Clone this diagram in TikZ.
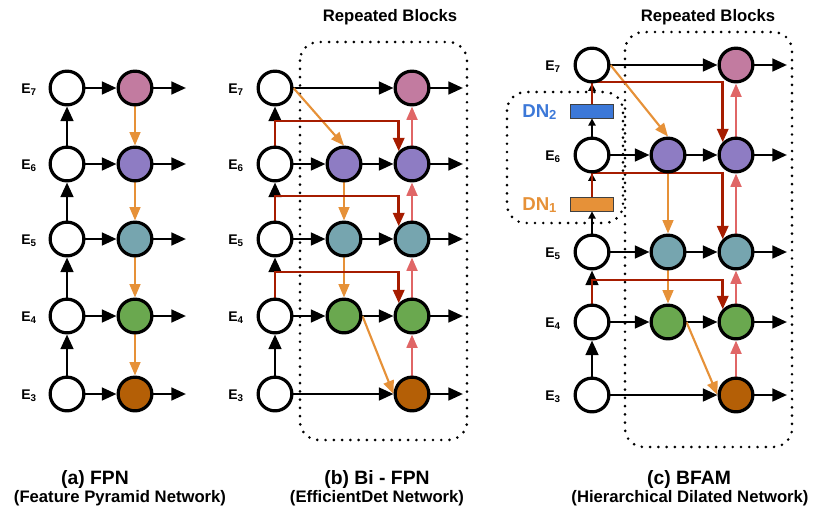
\documentclass[tikz,border=0pt]{standalone}
\usepackage{fontspec}
\setmainfont{Liberation Sans}
\usetikzlibrary{arrows.meta}

\definecolor{cpink}{HTML}{C27BA0}
\definecolor{cpurple}{HTML}{8E7CC3}
\definecolor{cteal}{HTML}{76A5AF}
\definecolor{cgreen}{HTML}{6AA84F}
\definecolor{cbrown}{HTML}{B45F06}
\definecolor{corange}{HTML}{E69138}
\definecolor{cdred}{HTML}{A61C00}
\definecolor{clred}{HTML}{E06666}
\definecolor{cblue}{HTML}{3C78D8}

\pgfdeclarelayer{back}
\pgfsetlayers{back,main}

\begin{document}
\begin{tikzpicture}[x=0.75pt,y=-0.75pt,
  feat/.style={circle,draw=black,line width=2.4pt,minimum size=25.3pt,inner sep=0pt,fill=white},
  dnbox/.style={rectangle,draw=black!75,line width=0.6pt,minimum width=32pt,minimum height=10.5pt,inner sep=0pt},
  blk/.style={draw=black,line width=2pt,-{Triangle[length=11pt,width=9.5pt]}},
  blksm/.style={draw=black,line width=1.3pt,-{Triangle[length=5.5pt,width=5.5pt]}},
  orng/.style={draw=corange,line width=1.6pt,-{Triangle[length=10pt,width=8pt]}},
  skipln/.style={draw=cdred,line width=1.9pt,-{Triangle[length=10pt,width=8.5pt]}},
  uparr/.style={draw=clred,line width=2pt,-{Triangle[length=10pt,width=8pt]}},
  repbox/.style={draw=black,line width=2.2pt,dash pattern=on 0pt off 6.2pt,line cap=round,rounded corners=14pt},
  elbl/.style={font=\bfseries\fontsize{10.5}{12}\selectfont,anchor=base east,inner sep=0pt},
  dnlbl/.style={font=\bfseries\fontsize{14}{16}\selectfont,anchor=base west,inner sep=0pt},
  captitle/.style={font=\bfseries\fontsize{14.5}{17}\selectfont,inner sep=0pt},
  capsub/.style={font=\bfseries\fontsize{12.5}{15}\selectfont,inner sep=0pt},
  rephead/.style={font=\bfseries\fontsize{12.5}{15}\selectfont,inner sep=0pt}]
\useasboundingbox (0,0) rectangle (813,511);

% ---------------- (a) FPN ----------------
\foreach \i/\y/\c in {7/88/cpink,6/164/cpurple,5/239/cteal,4/316/cgreen,3/394/cbrown}{
  \node[feat] (aL\i) at (67,\y) {};
  \node[feat,fill=\c] (aR\i) at (135,\y) {};
  \coordinate (aO\i) at (186,\y);
  \node[elbl] (aE\i) at (37,\y+5) {E\textsubscript{\i}};
}

% ---------------- (b) Bi-FPN ----------------
\foreach \i/\y/\c in {7/88/cpink,6/164/cpurple,5/239/cteal,4/316/cgreen,3/394/cbrown}{
  \node[feat] (bL\i) at (275,\y) {};
  \node[feat,fill=\c] (bR\i) at (412,\y) {};
  \coordinate (bO\i) at (463,\y);
  \node[elbl] (bE\i) at (244,\y+5) {E\textsubscript{\i}};
}
\foreach \i/\y/\c in {6/164/cpurple,5/239/cteal,4/316/cgreen}{
  \node[feat,fill=\c] (bM\i) at (344,\y) {};
}
\coordinate (bK6) at (275,121);
\coordinate (bK5) at (275,196);
\coordinate (bK4) at (275,272);
\node[rephead] (bRep) at (390,17) {Repeated Blocks};

% ---------------- (c) BFAM ----------------
\foreach \i/\y/\c in {7/65/cpink,6/155/cpurple,5/252/cteal,4/322/cgreen,3/395/cbrown}{
  \node[feat] (cL\i) at (592,\y) {};
  \node[feat,fill=\c] (cR\i) at (736,\y) {};
  \coordinate (cO\i) at (787,\y);
  \node[elbl] (cE\i) at (561,\y+5) {E\textsubscript{\i}};
}
\foreach \i/\y/\c in {6/155/cpurple,5/252/cteal,4/322/cgreen}{
  \node[feat,fill=\c] (cM\i) at (668,\y) {};
}
\node[dnbox,fill=cblue] (cDN2) at (592,111) {};
\node[dnbox,fill=corange] (cDN1) at (592,204) {};
\node[dnlbl,text=cblue] (cDN2t) at (522,117) {DN\textsubscript{2}};
\node[dnlbl,text=corange] (cDN1t) at (522,210) {DN\textsubscript{1}};
\coordinate (cK7) at (592,82);
\coordinate (cK6) at (592,173);
\coordinate (cK4) at (592,280);
\node[rephead] (cRep) at (708,17) {Repeated Blocks};

% ---------------- captions ----------------
\node[captitle] (aT) at (95,479) {(a) FPN};
\node[capsub] (aS) at (120,498) {(Feature Pyramid Network)};
\node[captitle] (bT) at (377,479) {(b) Bi - FPN};
\node[capsub] (bS) at (377,498) {(EfficientDet Network)};
\node[captitle] (cT) at (689,479) {(c) BFAM};
\node[capsub] (cS) at (690,498) {(Hierarchical Dilated Network)};

% ---------------- connectors ----------------
\begin{pgfonlayer}{back}
  % repeated-block frames
  \draw[repbox] (300,42) rectangle (467,440);
  \draw[repbox] (625,32) rectangle (792,447);
  \draw[repbox] (507,92) rectangle (623,223);

  % (a)
  \foreach \p/\q in {3/4,4/5,5/6,6/7}{ \draw[blk] (aL\p) -- (aL\q); }
  \foreach \i in {3,...,7}{
    \draw[blk] (aL\i) -- (aR\i);
    \draw[blk] (aR\i) -- (aO\i);
  }
  \foreach \p/\q in {7/6,6/5,5/4,4/3}{ \draw[orng] (aR\p) -- (aR\q); }

  % (b)
  \foreach \p/\q in {3/4,4/5,5/6,6/7}{ \draw[blk] (bL\p) -- (bL\q); }
  \draw[blk] (bL7) -- (bR7);
  \draw[blk] (bL3) -- (bR3);
  \foreach \i in {4,5,6}{
    \draw[blk] (bL\i) -- (bM\i);
    \draw[blk] (bM\i) -- (bR\i);
  }
  \foreach \i in {3,...,7}{ \draw[blk] (bR\i) -- (bO\i); }
  \draw[orng] (bL7.east) -- (bM6.north);
  \draw[orng] (bM6) -- (bM5);
  \draw[orng] (bM5) -- (bM4);
  \draw[orng] (bM4.east) -- (bR3.west);
  \foreach \p/\q in {3/4,4/5,5/6,6/7}{ \draw[uparr] (bR\p) -- (bR\q); }
  \draw[skipln] (bL6.north) -- (bK6) -| (bR6.136);
  \draw[skipln] (bL5.north) -- (bK5) -| (bR5.136);
  \draw[skipln] (bL4.north) -- (bK4) -| (bR4.136);

  % (c)
  \draw[blk] (cL3) -- (cL4);
  \draw[blk] (cL4) -- (cL5);
  \draw[blksm] (cL5) -- (cDN1);
  \draw[blksm] (cDN1) -- (cL6);
  \draw[blksm] (cL6) -- (cDN2);
  \draw[blksm] (cDN2) -- (cL7);
  \draw[blk] (cL7) -- (cR7);
  \draw[blk] (cL3) -- (cR3);
  \foreach \i in {4,5,6}{
    \draw[blk] (cL\i) -- (cM\i);
    \draw[blk] (cM\i) -- (cR\i);
  }
  \foreach \i in {3,...,7}{ \draw[blk] (cR\i) -- (cO\i); }
  \draw[orng] (cL7.east) -- (cM6.north);
  \draw[orng] (cM6) -- (cM5);
  \draw[orng] (cM5) -- (cM4);
  \draw[orng] (cM4.east) -- (cR3.west);
  \foreach \p/\q in {3/4,4/5,5/6,6/7}{ \draw[uparr] (cR\p) -- (cR\q); }
  \draw[skipln] (cDN2.north) -- (cK7) -| (cR6.136);
  \draw[skipln] (cDN1.north) -- (cK6) -| (cR5.136);
  \draw[skipln] (cL4.north) -- (cK4) -| (cR4.136);
\end{pgfonlayer}
\end{tikzpicture}
\end{document}
